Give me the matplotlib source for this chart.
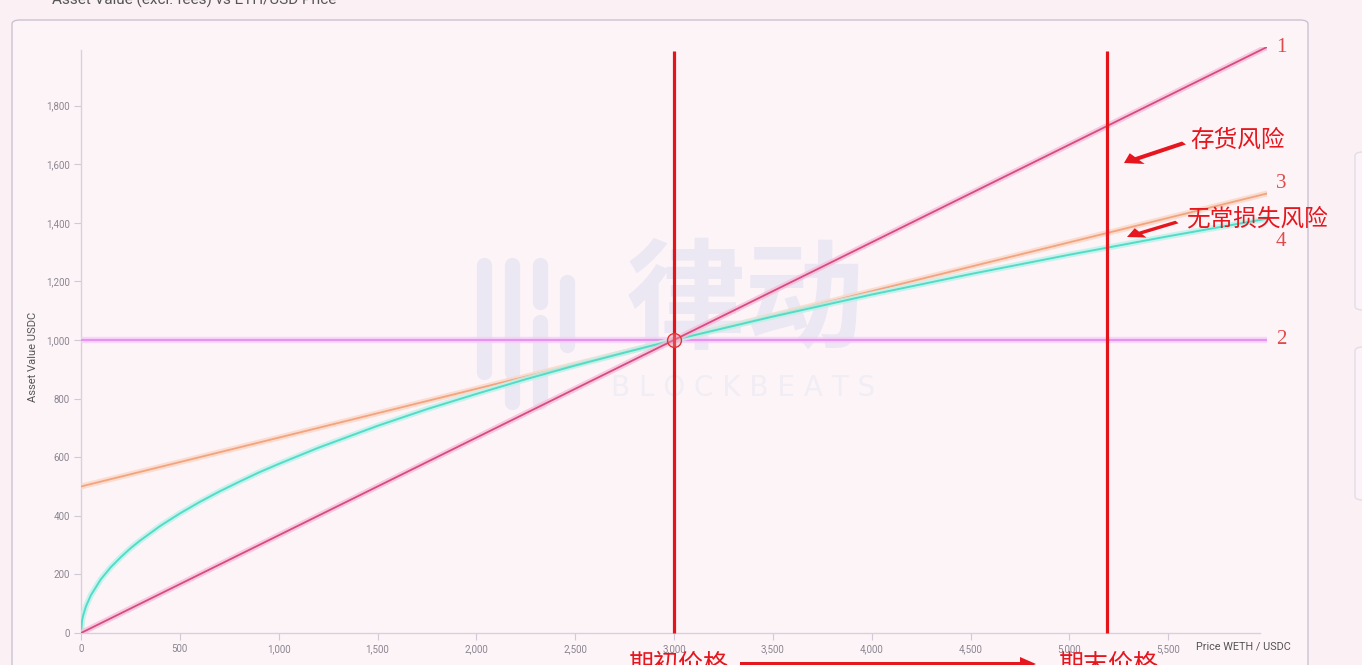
import matplotlib.pyplot as plt
from matplotlib.patches import FancyBboxPatch, FancyArrow
from matplotlib.lines import Line2D

# ------------------------------------------------------------
# Data (ETH price vs asset value in USDC)
price_ends = [0, 6000]
hold_eth = [0, 2000]          # 1: 100% ETH
hold_usdc = [1000, 1000]      # 2: 100% USDC
hold_5050 = [500, 1500]       # 3: 50/50 hold

lp_price = [0, 5, 10, 25, 50, 100, 150, 200, 250, 300, 400, 500, 600, 700,
            800, 900, 1000, 1200, 1500, 1750, 2000, 2250, 2500, 2750,
            3000, 3500, 4000, 4500, 5000, 5500, 6000]
lp_value = [0, 41, 58, 91, 129, 183, 224, 258, 289, 316, 365, 408, 447, 483,
            516, 548, 577, 632, 707, 764, 816, 866, 913, 957,
            1000, 1080, 1155, 1225, 1291, 1354, 1414]   # 4: LP position

start_price = 3000
end_price = 5190
start_value = 1000

y_ticks = list(range(0, 2000, 200))
x_ticks = list(range(0, 6000, 500))

W, H = 1362, 665


def fx(px):
    return px / W


def fy(py):
    return 1 - py / H


fig = plt.figure(figsize=(W / 100, H / 100), dpi=100)
fig.patch.set_facecolor('#fbf0f4')

# card background
card = FancyBboxPatch((fx(12), fy(720)), fx(1296), 700 / H,
                      boxstyle='round,pad=0,rounding_size=0.006',
                      transform=fig.transFigure, facecolor='#fdf4f8',
                      edgecolor='#c9c3d1', linewidth=1.0, zorder=-10)
fig.patches.append(card)
for top, bot in [(152, 310), (347, 500)]:
    side = FancyBboxPatch((fx(1355), fy(bot)), fx(60), (bot - top) / H,
                          boxstyle='round,pad=0,rounding_size=0.006',
                          transform=fig.transFigure, facecolor='#fbf3f7',
                          edgecolor='#e3dde6', linewidth=1.0, zorder=-10)
    fig.patches.append(side)

fig.text(fx(52), fy(5), 'Asset Value (excl. fees) vs ETH/USD Price',
         fontsize=11, color='#555', va='baseline', family='Roboto')

# watermark
wm = '#ebe7f3'
fig.text(fx(745), fy(304), '律动', fontsize=86, color=wm, ha='center',
         va='center', family='Noto Sans CJK SC', weight='bold', zorder=-5)
fig.text(fx(743), fy(388), 'B L O C K B E A T S', fontsize=20, color='#f1edf5',
         ha='center', va='center', family='DejaVu Sans', zorder=-5)
for xb, y0, y1 in [(484, 265, 372), (512, 265, 372), (512, 382, 402),
                   (540, 265, 302), (540, 322, 402), (567, 282, 345)]:
    fig.lines.append(Line2D([fx(xb), fx(xb)], [fy(y0), fy(y1)],
                            transform=fig.transFigure, color=wm, lw=11,
                            solid_capstyle='round', zorder=-5))

ax = fig.add_axes([fx(81), fy(633), fx(1267 - 81), (633 - 47) / H])
ax.set_zorder(1)
ax.set_facecolor('none')
ax.set_xlim(0, 6000)
ax.set_ylim(0, 2000)

for s in ['top', 'right']:
    ax.spines[s].set_visible(False)
for s in ['left', 'bottom']:
    ax.spines[s].set_color('#d6d1dc')
    ax.spines[s].set_linewidth(1.0)
ax.spines['left'].set_bounds(0, 1990)
ax.spines['bottom'].set_bounds(0, 5965)

ax.set_yticks(y_ticks)
ax.set_yticklabels([f'{v:,}' for v in y_ticks])
ax.set_xticks(x_ticks)
ax.set_xticklabels([f'{v:,}' for v in x_ticks])
ax.tick_params(axis='both', length=5, width=0.8, color='#cfcad6',
               labelsize=7, labelcolor='#8a8590', pad=3)
for lab in ax.get_xticklabels() + ax.get_yticklabels():
    lab.set_family('Roboto')

fig.text(fx(33), fy(357), 'Asset Value USDC', rotation=90, fontsize=8,
         color='#555', ha='center', va='center', family='Roboto')
fig.text(fx(1196), fy(646), 'Price WETH / USDC', fontsize=7.8,
         color='#555', ha='left', va='center', family='Roboto')

# series with soft glow
series = [
    (price_ends, hold_usdc, '#e594f0', '#f6d0f8', 1.6),
    (price_ends, hold_5050, '#f2a47f', '#fbd7c6', 1.3),
    (lp_price, lp_value, '#52dcc8', '#bdf2ea', 1.4),
    (price_ends, hold_eth, '#d64c7f', '#f7bddb', 1.3),
]
for i, (xs, ys, c, glow, lw) in enumerate(series):
    ax.plot(xs, ys, color=glow, lw=lw + 3, alpha=0.8, zorder=3 + i,
            solid_capstyle='round', solid_joinstyle='round')
    ax.plot(xs, ys, color=c, lw=lw, zorder=3 + i, solid_capstyle='round',
            solid_joinstyle='round')

# hand-drawn red markers
for p in [start_price, end_price]:
    ax.plot([p, p], [0, 1985], color='#e3141a', lw=2.3, zorder=10,
            clip_on=False, solid_capstyle='butt')
ax.plot([start_price], [start_value], 'o', ms=10, mfc=(0.95, 0.6, 0.65, 0.35),
        mec='#e3343a', mew=1.0, zorder=11)

red_num = '#e04a4a'
for py, t in [(48, '1'), (183, '3'), (242, '4'), (340, '2')]:
    fig.text(fx(1281), fy(py), t, fontsize=15, color=red_num, ha='center',
             va='center', family='Liberation Serif', zorder=20)

red = '#e5161d'
fig.text(fx(1190), fy(140), '存货风险', fontsize=17, color=red, ha='left',
         va='center', family='Noto Sans CJK SC', zorder=20)
fig.text(fx(1186), fy(219), '无常损失风险', fontsize=17, color=red, ha='left',
         va='center', family='Noto Sans CJK SC', zorder=20)
fig.text(fx(628), fy(652), '期初价格', fontsize=18, color=red, ha='left',
         va='top', family='Noto Sans CJK SC', zorder=20)
fig.text(fx(1058), fy(652), '期末价格', fontsize=18, color=red, ha='left',
         va='top', family='Noto Sans CJK SC', zorder=20)


def red_arrow(x0, y0, x1, y1, width=3.5, head=13):
    fig.patches.append(FancyArrow(fx(x0), fy(y0), fx(x1) - fx(x0), fy(y1) - fy(y0),
                                  width=width / H, head_width=head / H,
                                  head_length=16 / W, length_includes_head=True,
                                  transform=fig.transFigure, color=red, lw=0,
                                  zorder=20))


red_arrow(1184, 143, 1124, 163)
red_arrow(1177, 222, 1127, 237, width=3, head=11)
red_arrow(740, 664, 1036, 664, width=4, head=14)

fig.savefig('out.png', dpi=100, facecolor=fig.get_facecolor())
